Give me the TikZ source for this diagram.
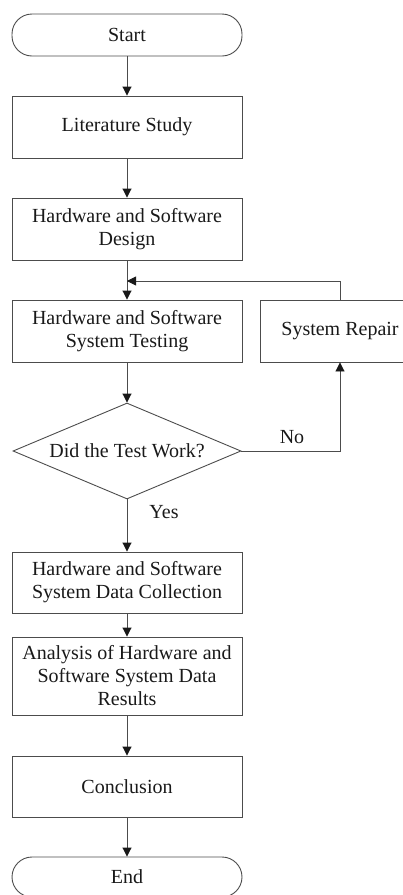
\documentclass[tikz,border=0pt]{standalone}
\usepackage{fontspec}
\setmainfont{Liberation Serif}
\usetikzlibrary{shapes.geometric,arrows.meta}
\begin{document}
\begin{tikzpicture}[x=1pt,y=-1pt,
  every node/.style={font=\fontsize{20}{23}\selectfont, text=black!90},
  line/.style={draw=black!70, line width=0.9pt},
  term/.style={line, rectangle, rounded corners=20pt, minimum width=230pt, inner sep=0pt, align=center},
  proc/.style={line, rectangle, minimum width=230pt, inner sep=0pt, align=center},
  dec/.style={line, diamond, aspect=2.375, minimum width=228pt, minimum height=96pt, inner sep=0pt},
  arr/.style={line, -{Triangle[width=9pt,length=9pt,color=black!90]}},
  lbl/.style={inner sep=0pt}
]
\useasboundingbox (0,0) rectangle (403,895);
\node[term, minimum height=42pt] (start) at (127,35) {Start};
\node[proc, minimum height=62pt] (lit) at (127,127) {Literature Study};
\node[proc, minimum height=62pt] (design) at (127,229) {Hardware and Software\\Design};
\node[proc, minimum height=62pt] (test) at (127,331) {Hardware and Software\\System Testing};
\node[proc, minimum width=160pt, minimum height=62pt] (repair) at (340,331) {System Repair};
\node[dec] (dec) at (127,451) {Did the Test Work?};
\node[proc, minimum height=61pt] (collect) at (127,582.5) {Hardware and Software\\System Data Collection};
\node[proc, minimum height=78pt] (anal) at (127,676) {Analysis of Hardware and\\Software System Data\\Results};
\node[proc, minimum height=61pt] (concl) at (127,786.5) {Conclusion};
\node[term, minimum height=40pt] (end) at (127,877) {End};
\coordinate (join) at (127,281);
\draw[arr] (start) -- (lit);
\draw[arr] (lit) -- (design);
\draw[arr] (design) -- (test);
\draw[arr] (test) -- (dec);
\draw[arr] (dec.east) -| (repair.south);
\draw[arr] (repair.north) |- (join);
\draw[arr] (dec) -- (collect);
\draw[arr] (collect) -- (anal);
\draw[arr] (anal) -- (concl);
\draw[arr] (concl) -- (end);
\node[lbl] (no) at (292,437) {No};
\node[lbl] (yes) at (164,512) {Yes};
\end{tikzpicture}
\end{document}
